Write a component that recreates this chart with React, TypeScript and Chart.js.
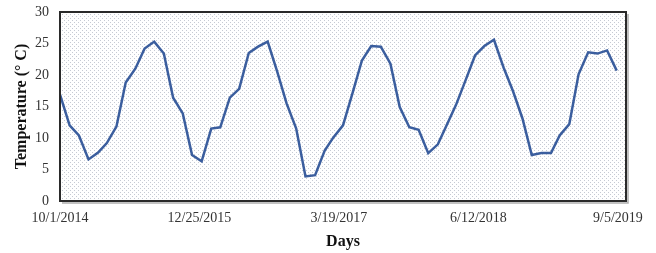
import React, { useEffect, useRef } from "react";
import { Chart, registerables } from "chart.js";

Chart.register(...registerables);

const startDate = "2014-10-01";
const endDate = "2019-10-01";

const sampleDates = [
  "2014-10-01", "2014-11-01", "2014-12-01", "2015-01-01", "2015-02-01", "2015-03-01",
  "2015-04-01", "2015-05-01", "2015-06-01", "2015-07-01", "2015-08-01", "2015-09-01",
  "2015-10-01", "2015-11-01", "2015-12-01", "2016-01-01", "2016-02-01", "2016-03-01",
  "2016-04-01", "2016-05-01", "2016-06-01", "2016-07-01", "2016-08-01", "2016-09-01",
  "2016-10-01", "2016-11-01", "2016-12-01", "2017-01-01", "2017-02-01", "2017-03-01",
  "2017-04-01", "2017-05-01", "2017-06-01", "2017-07-01", "2017-08-01", "2017-09-01",
  "2017-10-01", "2017-11-01", "2017-12-01", "2018-01-01", "2018-02-01", "2018-03-01",
  "2018-04-01", "2018-05-01", "2018-06-01", "2018-07-01", "2018-08-01", "2018-09-01",
  "2018-10-01", "2018-11-01", "2018-12-01", "2019-01-01", "2019-02-01", "2019-03-01",
  "2019-04-01", "2019-05-01", "2019-06-01", "2019-07-01", "2019-08-01", "2019-09-01",
];

const temperatures = [
  16.9, 12.0, 10.4, 6.6, 7.7, 9.2, 11.8, 18.8, 21.0, 24.2, 25.3, 23.4,
  16.4, 13.9, 7.3, 6.3, 11.5, 11.7, 16.4, 17.8, 23.5, 24.5, 25.3, 20.5,
  15.5, 11.5, 3.9, 4.1, 8.0, 10.1, 12.0, 17.0, 22.3, 24.6, 24.5, 21.8,
  14.9, 11.7, 11.3, 7.6, 9.0, 12.0, 15.3, 19.1, 23.1, 24.6, 25.6, 21.2,
  17.5, 13.1, 7.3, 7.6, 7.6, 10.4, 12.2, 20.1, 23.6, 23.4, 23.9, 20.7,
];

const xTickLabels = ["10/1/2014", "12/25/2015", "3/19/2017", "6/12/2018", "9/5/2019"];
const yTicks = [0, 5, 10, 15, 20, 25, 30];

const DAY = 86400000;
function isoToMs(s: string) {
  const [y, m, d] = s.split("-").map(Number);
  return Date.UTC(y, m - 1, d);
}
function mdyToMs(s: string) {
  const [m, d, y] = s.split("/").map(Number);
  return Date.UTC(y, m - 1, d);
}
const t0 = isoToMs(startDate);
const dayOf = (ms: number) => Math.round((ms - t0) / DAY);

export default function App() {
  const ref = useRef<HTMLCanvasElement>(null);

  useEffect(() => {
    const canvas = ref.current!;
    const pc = document.createElement("canvas");
    pc.width = 4;
    pc.height = 4;
    const p = pc.getContext("2d")!;
    p.fillStyle = "#ffffff";
    p.fillRect(0, 0, 4, 4);
    p.fillStyle = "#c6cad3";
    p.fillRect(0, 0, 1, 1);
    p.fillRect(2, 2, 1, 1);

    const bgPlugin = {
      id: "bg",
      beforeDraw(chart: any) {
        const { ctx, chartArea: a } = chart;
        ctx.save();
        const pat = ctx.createPattern(pc, "repeat");
        ctx.fillStyle = pat;
        ctx.fillRect(a.left, a.top, a.right - a.left, a.bottom - a.top);
        ctx.restore();
      },
      afterDraw(chart: any) {
        const { ctx, chartArea: a } = chart;
        ctx.save();
        ctx.strokeStyle = "rgba(120,120,120,0.6)";
        ctx.lineWidth = 1.5;
        ctx.beginPath();
        ctx.moveTo(a.right + 2, a.top + 2);
        ctx.lineTo(a.right + 2, a.bottom + 2);
        ctx.lineTo(a.left + 2, a.bottom + 2);
        ctx.stroke();
        ctx.strokeStyle = "#2a2a2a";
        ctx.lineWidth = 2;
        ctx.strokeRect(a.left, a.top, a.right - a.left, a.bottom - a.top);
        ctx.restore();
      },
    };

    const data = sampleDates.map((d, i) => ({ x: dayOf(isoToMs(d)), y: temperatures[i] }));
    const xTickValues = xTickLabels.map((s) => dayOf(mdyToMs(s)));

    const chart = new Chart(canvas, {
      type: "line",
      data: {
        datasets: [
          {
            data,
            borderColor: "#3b5e9e",
            borderWidth: 2.5,
            pointRadius: 0,
            tension: 0,
            fill: false,
          },
        ],
      },
      options: {
        animation: false,
        responsive: false,
        maintainAspectRatio: false,
        layout: { padding: { left: 0, right: 30, top: 12, bottom: 0 } },
        plugins: { legend: { display: false }, tooltip: { enabled: false } },
        scales: {
          x: {
            type: "linear",
            min: 0,
            max: dayOf(isoToMs(endDate)),
            border: { display: false },
            grid: { display: false, drawTicks: false },
            afterBuildTicks: (scale: any) => {
              scale.ticks = xTickValues.map((v) => ({ value: v }));
            },
            afterFit: (scale: any) => {
              scale.height = 52;
              scale.paddingLeft = 0;
              scale.paddingRight = 0;
            },
            ticks: {
              autoSkip: false,
              maxRotation: 0,
              padding: 9,
              color: "#333333",
              font: { family: "'Liberation Serif', 'Times New Roman', serif", size: 14 },
              callback: (v: any) => {
                const idx = xTickValues.indexOf(Number(v));
                return idx >= 0 ? xTickLabels[idx] : "";
              },
            },
            title: {
              display: true,
              text: "Days",
              color: "#111111",
              padding: { top: 0, bottom: 2 },
              font: { family: "'Liberation Serif', 'Times New Roman', serif", size: 16, weight: "bold" },
            },
          },
          y: {
            min: 0,
            max: 30,
            border: { display: false },
            grid: { display: false, drawTicks: false },
            afterBuildTicks: (scale: any) => {
              scale.ticks = yTicks.map((v) => ({ value: v }));
            },
            afterFit: (scale: any) => {
              scale.width = 60;
              scale.paddingTop = 0;
              scale.paddingBottom = 0;
            },
            ticks: {
              padding: 11,
              color: "#333333",
              font: { family: "'Liberation Serif', 'Times New Roman', serif", size: 14 },
            },
            title: {
              display: true,
              text: "Temperature (° C)",
              color: "#111111",
              padding: { top: 12, bottom: 0 },
              font: { family: "'Liberation Serif', 'Times New Roman', serif", size: 16, weight: "bold" },
            },
          },
        },
      },
      plugins: [bgPlugin],
    });
    return () => chart.destroy();
  }, []);

  return (
    <div style={{ position: "absolute", left: 0, top: 0, width: 656, height: 253, background: "#fff" }}>
      <canvas ref={ref} width={656} height={253} style={{ display: "block" }} />
    </div>
  );
}
